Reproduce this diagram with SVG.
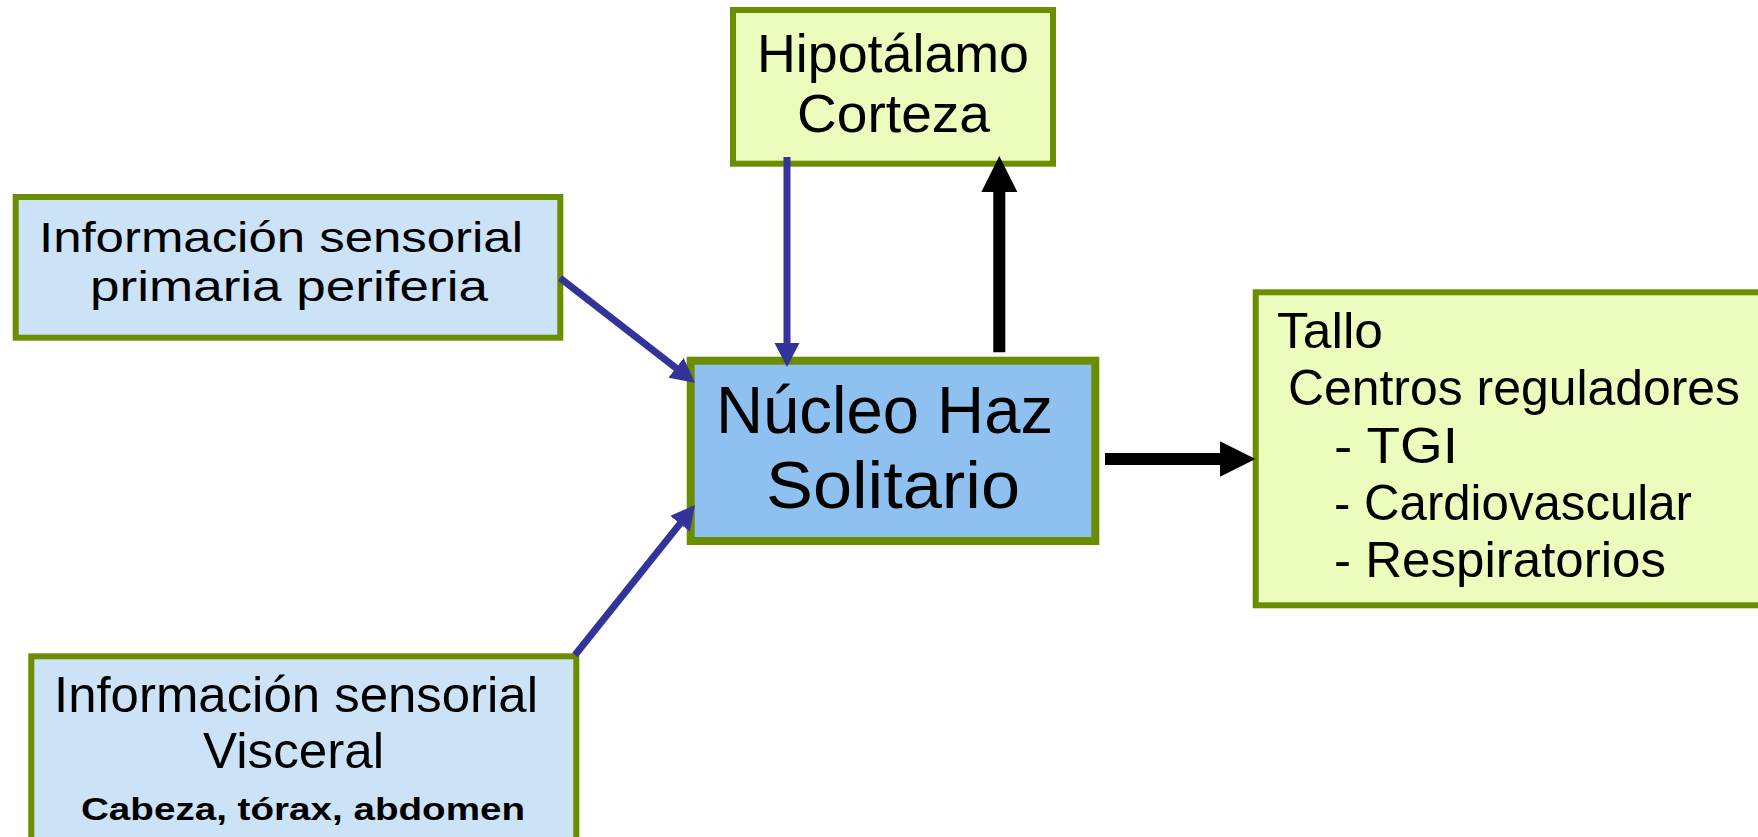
<svg xmlns="http://www.w3.org/2000/svg" width="1758" height="837" viewBox="0 0 1758 837">
  <style>
    .box { stroke: #6b8e00; stroke-width: 6; }
    .side { fill: #cce3f7; }
    .target { fill: #ecfcbc; }
    .core { fill: #8fc1f0; stroke-width: 8; }
    text { font-family: "Liberation Sans", "DejaVu Sans", sans-serif; fill: #000; }
    .t43 { font-size: 43px; }
    .t50 { font-size: 50px; }
    .t53 { font-size: 53px; }
    .t66 { font-size: 66px; }
    .small { font-size: 32px; font-weight: bold; }
    .blue { stroke: #333399; stroke-width: 7; fill: none; marker-end: url(#headBlue); }
    .black { stroke: #000; stroke-width: 12; fill: none; marker-end: url(#headBlack); }
  </style>
  <defs>
    <marker id="headBlue" markerUnits="userSpaceOnUse" markerWidth="26" markerHeight="26" refX="4" refY="12.5" orient="auto" viewBox="0 0 26 26">
      <path d="M0,0 L24,12.5 L0,25 z" fill="#333399"/>
    </marker>
    <marker id="headBlack" markerUnits="userSpaceOnUse" markerWidth="38" markerHeight="38" refX="6" refY="18" orient="auto" viewBox="0 0 38 38">
      <path d="M0,0 L36,18 L0,36 z" fill="#000"/>
    </marker>
  </defs>

  <rect width="1758" height="837" fill="#fff"/>

  <!-- Hypothalamus / cortex -->
  <g id="hipotalamo">
    <rect class="box target" x="733" y="10" width="320" height="153.7"/>
    <text class="t53" x="757" y="72" textLength="272" lengthAdjust="spacingAndGlyphs">Hipotálamo</text>
    <text class="t53" x="797" y="132" textLength="193" lengthAdjust="spacingAndGlyphs">Corteza</text>
  </g>

  <!-- Peripheral primary sensory input -->
  <g id="primaria">
    <rect class="box side" x="15.7" y="197" width="544.6" height="140.7"/>
    <text class="t43" x="39" y="252" textLength="484" lengthAdjust="spacingAndGlyphs">Información sensorial</text>
    <text class="t43" x="90" y="301" textLength="398" lengthAdjust="spacingAndGlyphs">primaria periferia</text>
  </g>

  <!-- Nucleus of the solitary tract -->
  <g id="nucleo">
    <rect class="box core" x="690.7" y="360.7" width="404.6" height="180.3"/>
    <text class="t66" x="716" y="433" textLength="337" lengthAdjust="spacingAndGlyphs">Núcleo Haz</text>
    <text class="t66" x="766" y="508" textLength="254" lengthAdjust="spacingAndGlyphs">Solitario</text>
  </g>

  <!-- Brainstem regulatory centres -->
  <g id="tallo">
    <rect class="box target" x="1255.7" y="292.3" width="600" height="313"/>
    <text class="t50" x="1277" y="348" textLength="106" lengthAdjust="spacingAndGlyphs">Tallo</text>
    <text class="t50" x="1288" y="405" textLength="452" lengthAdjust="spacingAndGlyphs">Centros reguladores</text>
    <text class="t50" x="1334" y="463" textLength="124" lengthAdjust="spacingAndGlyphs">- TGI</text>
    <text class="t50" x="1334" y="520" textLength="358" lengthAdjust="spacingAndGlyphs">- Cardiovascular</text>
    <text class="t50" x="1334" y="577" textLength="332" lengthAdjust="spacingAndGlyphs">- Respiratorios</text>
  </g>

  <!-- Visceral sensory input -->
  <g id="visceral">
    <rect class="box side" x="31.3" y="656.3" width="545" height="300"/>
    <text class="t50" x="54" y="712" textLength="484" lengthAdjust="spacingAndGlyphs">Información sensorial</text>
    <text class="t50" x="203" y="768" textLength="181" lengthAdjust="spacingAndGlyphs">Visceral</text>
    <text class="small" x="81" y="820" textLength="444" lengthAdjust="spacingAndGlyphs">Cabeza, tórax, abdomen</text>
  </g>

  <!-- Connectors -->
  <g id="connectors">
    <path class="blue" d="M560,278 L679.2,370.4"/>
    <path class="blue" d="M787,157 L787,347"/>
    <path class="blue" d="M575,655 L682.5,520.6"/>
    <path class="black" d="M999.3,352.3 L999.3,186"/>
    <path class="black" d="M1105,459 L1225.5,459"/>
  </g>
</svg>
